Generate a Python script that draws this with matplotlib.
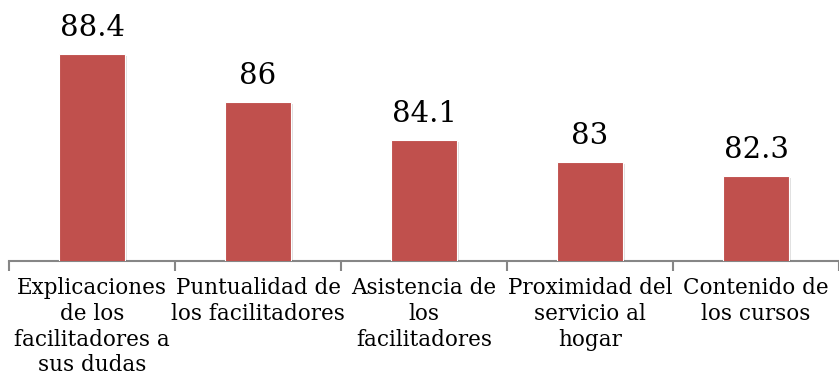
import matplotlib
matplotlib.use("Agg")
import matplotlib.pyplot as plt
import matplotlib.patheffects as pe
import numpy as np

categories = [
    "Explicaciones\nde los\nfacilitadores a\nsus dudas",
    "Puntualidad de\nlos facilitadores",
    "Asistencia de\nlos\nfacilitadores",
    "Proximidad del\nservicio al\nhogar",
    "Contenido de\nlos cursos",
]
values = [88.4, 86, 84.1, 83, 82.3]
value_labels = ["88.4", "86", "84.1", "83", "82.3"]

bar_color = "#C0504D"
axis_color = "#868686"
font = ["DejaVu Serif"]

fig = plt.figure(figsize=(8.39, 3.79), dpi=100)
ax = fig.add_axes([9 / 839, (379 - 260.5) / 379, 830 / 839, (260.5 - 20) / 379])

x = np.arange(len(categories))
bars = ax.bar(x, values, width=0.4, color=bar_color, edgecolor="white",
              linewidth=0.8, zorder=3)
for b in bars:
    b.set_path_effects([pe.SimplePatchShadow(offset=(1.5, -1.5), shadow_rgbFace="black",
                                             alpha=0.12), pe.Normal()])

ax.set_xlim(-0.5, len(categories) - 0.5)
ax.set_ylim(78.1, 90.1)

for xi, v, lab in zip(x, values, value_labels):
    ax.annotate(lab, (xi, v), xytext=(0, 9), textcoords="offset points",
                ha="center", va="bottom", fontsize=21, family=font, color="black")

for side in ("left", "right", "top"):
    ax.spines[side].set_visible(False)
ax.spines["bottom"].set_color(axis_color)
ax.spines["bottom"].set_linewidth(1.5)
ax.set_yticks([])

ax.set_xticks(np.arange(len(categories) + 1) - 0.5, minor=False)
ax.set_xticklabels([])
ax.tick_params(axis="x", which="major", length=7, width=1.5, color=axis_color,
               direction="out")
ax.set_xticks(x, minor=True)
ax.set_xticklabels(categories, minor=True, fontsize=15.5, family=font,
                   linespacing=1.22)
ax.tick_params(axis="x", which="minor", length=0, pad=12)

fig.savefig("out.png", dpi=100, facecolor="white")
